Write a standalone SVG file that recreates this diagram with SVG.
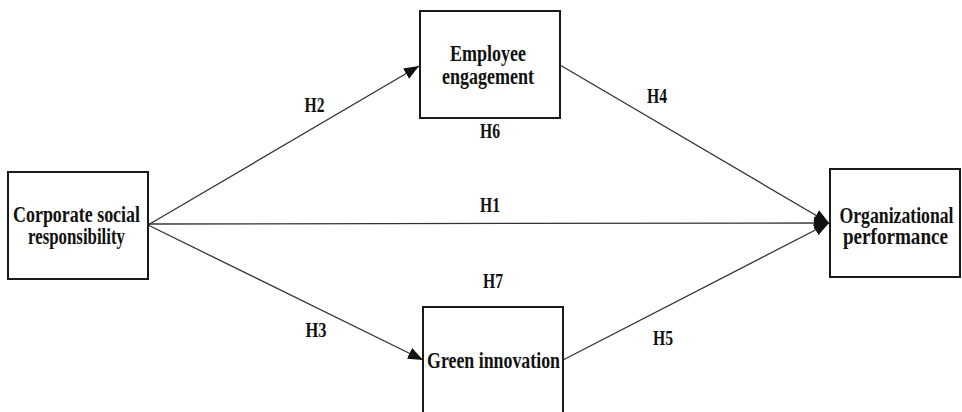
<svg xmlns="http://www.w3.org/2000/svg" width="962" height="412" viewBox="0 0 962 412">
  <defs>
    <marker id="arrow" viewBox="0 0 15 12" refX="15" refY="6" markerWidth="15" markerHeight="12" markerUnits="userSpaceOnUse" orient="auto">
      <path d="M0,0 L15,6 L0,12 z" fill="#111"/>
    </marker>
    <style>
      .box { fill: #fff; stroke: #1a1a1a; stroke-width: 2; }
      .edge { fill: none; stroke: #333; stroke-width: 1.3; marker-end: url(#arrow); }
      .label { font-family: "Liberation Serif", "Times New Roman", serif; font-weight: bold; font-size: 24px; fill: #111; text-anchor: middle; }
      .hyp { font-family: "Liberation Serif", "Times New Roman", serif; font-weight: bold; font-size: 21px; fill: #111; text-anchor: middle; }
    </style>
  </defs>
  <rect width="962" height="412" fill="#fff"/>

  <!-- connectors -->
  <g id="connectors">
    <line class="edge" x1="148" y1="225" x2="419" y2="66"/>
    <line class="edge" x1="148" y1="225" x2="423" y2="360"/>
    <line class="edge" x1="148" y1="224" x2="829" y2="223"/>
    <line class="edge" x1="560" y1="65" x2="829" y2="223"/>
    <line class="edge" x1="563" y1="360" x2="829" y2="223"/>
  </g>

  <!-- hypothesis labels -->
  <g id="hypotheses">
    <text class="hyp" x="314.5" y="112" textLength="20" lengthAdjust="spacingAndGlyphs">H2</text>
    <text class="hyp" x="657" y="103" textLength="20" lengthAdjust="spacingAndGlyphs">H4</text>
    <text class="hyp" x="490" y="138" textLength="20" lengthAdjust="spacingAndGlyphs">H6</text>
    <text class="hyp" x="490" y="212" textLength="20" lengthAdjust="spacingAndGlyphs">H1</text>
    <text class="hyp" x="493" y="288" textLength="20" lengthAdjust="spacingAndGlyphs">H7</text>
    <text class="hyp" x="316" y="337" textLength="21" lengthAdjust="spacingAndGlyphs">H3</text>
    <text class="hyp" x="663" y="345" textLength="20" lengthAdjust="spacingAndGlyphs">H5</text>
  </g>

  <g id="node-csr">
    <rect class="box" x="8" y="172" width="140" height="107"/>
    <text class="label" x="76.5" y="222" textLength="127" lengthAdjust="spacingAndGlyphs">Corporate social</text>
    <text class="label" x="76.5" y="244" textLength="97" lengthAdjust="spacingAndGlyphs">responsibility</text>
  </g>

  <g id="node-engagement">
    <rect class="box" x="420" y="11" width="140" height="107"/>
    <text class="label" x="488" y="61" textLength="76" lengthAdjust="spacingAndGlyphs">Employee</text>
    <text class="label" x="488" y="84" textLength="92" lengthAdjust="spacingAndGlyphs">engagement</text>
  </g>

  <g id="node-performance">
    <rect class="box" x="830" y="169" width="130" height="108"/>
    <text class="label" x="896.5" y="223" textLength="114" lengthAdjust="spacingAndGlyphs">Organizational</text>
    <text class="label" x="895.5" y="244" textLength="105" lengthAdjust="spacingAndGlyphs">performance</text>
  </g>

  <g id="node-innovation">
    <rect class="box" x="423" y="307" width="140" height="120"/>
    <text class="label" x="493.5" y="368" textLength="133" lengthAdjust="spacingAndGlyphs">Green innovation</text>
  </g>
</svg>
